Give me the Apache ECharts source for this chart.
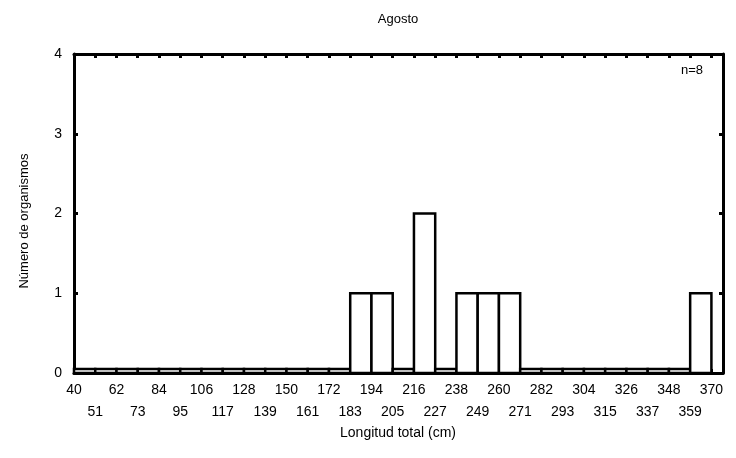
<!DOCTYPE html>
<html><head><meta charset="utf-8">
<script src="https://cdn.jsdelivr.net/npm/echarts@6/dist/echarts.min.js"></script>
<style>html,body{margin:0;padding:0;background:#fff}#c{width:736px;height:458px}</style>
</head><body><div id="c"></div>
<script>
const binEdges = [40,51,62,73,84,95,106,117,128,139,150,161,172,183,194,205,216,227,238,249,260,271,282,293,304,315,326,337,348,359,370];
const counts = [0,0,0,0,0,0,0,0,0,0,0,0,0,1,1,0,2,0,1,1,1,0,0,0,0,0,0,0,0,1];
const yTicks = [0,1,2,3,4];
const titleText = 'Agosto';
const nText = 'n=8';
const xName = 'Longitud total (cm)';
const yName = 'Número de organismos';

const data = counts.map((v,i)=>[binEdges[i], binEdges[i+1], v]);
const F = 'Liberation Sans, Arial, sans-serif';
const chart = echarts.init(document.getElementById('c'), null, {renderer:'canvas'});
const xCommon = {
  type:'value', min:40, max:376, interval:11,
  splitLine:{show:false},
  axisLine:{show:true, onZero:false, lineStyle:{color:'#000', width:3}},
  axisTick:{show:true, inside:true, length:4, lineStyle:{color:'#000', width:3}}
};
const yCommon = {
  type:'value', min:0, max:4, interval:1,
  splitLine:{show:false},
  axisLine:{show:true, onZero:false, lineStyle:{color:'#000', width:3}},
  axisTick:{show:true, inside:true, length:4, lineStyle:{color:'#000', width:3}}
};
chart.setOption({
  animation:false,
  backgroundColor:'#fff',
  grid:{left:74, right:13, top:54, bottom:85, containLabel:false},
  graphic:[
    {type:'text', x:398, y:19, style:{text:titleText, font:'13px '+F, fill:'#000', textAlign:'center', textVerticalAlign:'middle'}},
    {type:'text', x:703, y:70, style:{text:nText, font:'13px '+F, fill:'#000', textAlign:'right', textVerticalAlign:'middle'}},
    {type:'text', x:24, y:221, rotation:Math.PI/2, style:{text:yName, font:'13px '+F, fill:'#000', textAlign:'center', textVerticalAlign:'middle'}},
    {type:'text', x:398, y:433, style:{text:xName, font:'14px '+F, fill:'#000', textAlign:'center', textVerticalAlign:'middle'}}
  ],
  xAxis:[
    Object.assign({}, xCommon, {position:'bottom',
      axisLabel:{show:true, margin:6, fontFamily:F, fontSize:14, color:'#000', lineHeight:22,
        formatter:function(v){
          const i = binEdges.indexOf(v);
          if(i<0) return '';
          return (i%2===1 ? '\n' : '') + binEdges[i];
        }}}),
    Object.assign({}, xCommon, {position:'top', axisLabel:{show:false}})
  ],
  yAxis:[
    Object.assign({}, yCommon, {position:'left',
      axisLabel:{show:true, margin:12, fontFamily:F, fontSize:14, color:'#000',
        formatter:function(v){ return yTicks.indexOf(v)>=0 ? String(v) : ''; }}}),
    Object.assign({}, yCommon, {position:'right', axisLabel:{show:false}})
  ],
  series:[{
    type:'custom', xAxisIndex:0, yAxisIndex:0, clip:false,
    data:data,
    renderItem:function(params, api){
      const lo = api.value(0), hi = api.value(1), v = api.value(2);
      const p0 = api.coord([lo, 0]);
      const p1 = api.coord([hi, v]);
      let top = p1[1];
      if (p0[1]-top < 4) top = p0[1]-4;
      return {type:'rect', shape:{x:p0[0], y:top, width:p1[0]-p0[0], height:p0[1]-top},
        style:{fill:'#fff', stroke:'#000', lineWidth:2.5}};
    }
  }]
});
</script></body></html>
